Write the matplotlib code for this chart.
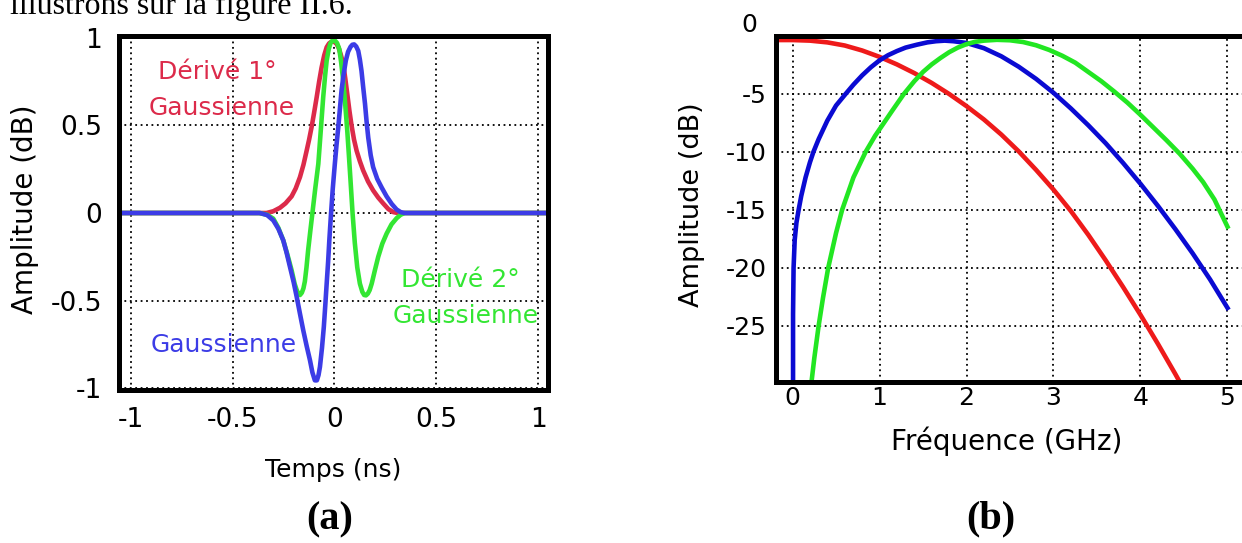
import numpy as np
import matplotlib.pyplot as plt
from matplotlib.transforms import ScaledTranslation

plt.rcParams['axes.unicode_minus'] = False
plt.rcParams['font.family'] = ['DejaVu Sans']

# ---- (a) time domain pulses ----
t_red = [-1.07, -0.45, -0.333, -0.30, -0.267, -0.24, -0.21, -0.19, -0.169, -0.152,
         -0.136, -0.124, -0.112, -0.10, -0.087, -0.075, -0.063, -0.05, -0.038, -0.026,
         -0.014, 0.0, 0.01, 0.02, 0.031, 0.043, 0.053, 0.063, 0.074, 0.084,
         0.096, 0.109, 0.125, 0.141, 0.165, 0.19, 0.215, 0.24, 0.265, 0.289,
         0.31, 0.40, 1.07]
a_red = [0, 0, 0, 0.01, 0.03, 0.055, 0.095, 0.14, 0.205, 0.275,
         0.357, 0.42, 0.49, 0.57, 0.661, 0.75, 0.83, 0.90, 0.946, 0.968,
         0.978, 0.976, 0.966, 0.945, 0.905, 0.852, 0.77, 0.68, 0.58, 0.50,
         0.42, 0.355, 0.295, 0.243, 0.18, 0.129, 0.088, 0.054, 0.022, 0.005,
         0, 0, 0]

t_blue = [-1.07, -0.366, -0.33, -0.30, -0.275, -0.251, -0.235, -0.218, -0.20, -0.185,
          -0.169, -0.153, -0.136, -0.12, -0.108, -0.096, -0.086, -0.078, -0.071, -0.061,
          -0.052, -0.045, -0.038, -0.031, -0.025, -0.017, -0.008, 0.002, 0.01, 0.019,
          0.027, 0.035, 0.045, 0.056, 0.067, 0.079, 0.088, 0.097, 0.107, 0.117,
          0.125, 0.133, 0.141, 0.15, 0.158, 0.166, 0.178, 0.19, 0.21, 0.232,
          0.256, 0.281, 0.305, 0.325, 0.345, 1.07]
a_blue = [0, 0, -0.012, -0.042, -0.09, -0.156, -0.225, -0.308, -0.395, -0.479,
          -0.575, -0.669, -0.76, -0.84, -0.91, -0.955, -0.955, -0.925, -0.878, -0.77,
          -0.65, -0.53, -0.403, -0.28, -0.156, -0.01, 0.14, 0.28, 0.385, 0.49,
          0.595, 0.70, 0.79, 0.87, 0.92, 0.948, 0.960, 0.962, 0.95, 0.925,
          0.875, 0.81, 0.72, 0.624, 0.52, 0.43, 0.33, 0.262, 0.195, 0.145,
          0.095, 0.052, 0.02, 0.005, 0, 0]

t_green = [-1.07, -0.37, -0.33, -0.30, -0.275, -0.251, -0.23, -0.21, -0.195, -0.185,
           -0.177, -0.169, -0.16, -0.152, -0.145, -0.137, -0.129, -0.118, -0.108, -0.094,
           -0.079, -0.067, -0.055, -0.046, -0.038, -0.028, -0.019, -0.008, 0.002, 0.013,
           0.024, 0.033, 0.043, 0.053, 0.063, 0.071, 0.079, 0.089, 0.10, 0.112,
           0.125, 0.137, 0.146, 0.155, 0.164, 0.173, 0.183, 0.20, 0.215, 0.235,
           0.256, 0.28, 0.305, 0.325, 0.345, 1.07]
a_green = [0, 0, -0.01, -0.032, -0.085, -0.156, -0.24, -0.327, -0.405, -0.44,
           -0.46, -0.468, -0.455, -0.43, -0.39, -0.31, -0.213, -0.10, 0.0, 0.14,
           0.28, 0.47, 0.661, 0.78, 0.87, 0.935, 0.97, 0.985, 0.985, 0.97,
           0.935, 0.86, 0.757, 0.62, 0.47, 0.33, 0.186, 0.0, -0.17, -0.31,
           -0.403, -0.45, -0.468, -0.47, -0.46, -0.44, -0.403, -0.32, -0.25, -0.175,
           -0.118, -0.065, -0.03, -0.01, 0, 0]

# ---- (b) spectra in dB ----
f_red = [-0.2, 0.0, 0.2, 0.4, 0.6, 0.8, 1.0, 1.2, 1.4, 1.6, 1.8, 2.0, 2.2, 2.4,
         2.6, 2.8, 3.0, 3.2, 3.4, 3.6, 3.8, 4.0, 4.2, 4.4, 4.6]
db_red = [-0.35, -0.35, -0.4, -0.55, -0.82, -1.25, -1.8, -2.45, -3.2, -4.05, -5.0,
          -6.05, -7.2, -8.5, -9.95, -11.55, -13.25, -15.1, -17.15, -19.35, -21.65,
          -24.05, -26.55, -29.15, -31.85]

f_blue = [0.006, 0.006, 0.012, 0.025, 0.045, 0.07, 0.1, 0.15, 0.2, 0.24, 0.3, 0.4,
          0.5, 0.61, 0.7, 0.8, 0.9, 1.0, 1.1, 1.2, 1.3, 1.43, 1.55, 1.65, 1.75,
          1.85, 2.0, 2.2, 2.4, 2.6, 2.8, 3.0, 3.2, 3.4, 3.6, 3.8, 4.0, 4.2, 4.4,
          4.6, 4.8, 5.0]
db_blue = [-31, -24, -20, -17.6, -16.1, -15.0, -13.8, -12.2, -10.9, -10.0, -8.9, -7.3,
           -6.0, -5.0, -4.2, -3.4, -2.7, -2.1, -1.65, -1.3, -1.0, -0.75, -0.55, -0.45,
           -0.4, -0.45, -0.6, -1.05, -1.75, -2.65, -3.7, -4.9, -6.25, -7.7, -9.25,
           -10.95, -12.75, -14.65, -16.65, -18.75, -21.0, -23.45]

f_green = [0.2, 0.25, 0.3, 0.35, 0.41, 0.5, 0.57, 0.7, 0.84, 0.95, 1.05, 1.15, 1.28,
           1.4, 1.5, 1.6, 1.7, 1.8, 1.9, 2.0, 2.1, 2.2, 2.35, 2.5, 2.65, 2.8, 2.95,
           3.1, 3.25, 3.4, 3.55, 3.7, 3.85, 4.0, 4.15, 4.3, 4.45, 4.6, 4.72, 4.85, 5.0]
db_green = [-31, -27.8, -25, -22.6, -20, -17.0, -15.0, -12.2, -10.0, -8.6, -7.5, -6.4,
            -5.0, -3.9, -3.1, -2.45, -1.9, -1.4, -1.0, -0.7, -0.5, -0.4, -0.33, -0.37,
            -0.52, -0.8, -1.2, -1.7, -2.3, -3.1, -3.9, -4.8, -5.75, -6.8, -7.9, -9.0,
            -10.15, -11.45, -12.6, -14.1, -16.45]

t_ticks = [-1, -0.5, 0, 0.5, 1]
t_labels = ['-1', '-0.5', '0', '0.5', '1']
a_ticks = [-1, -0.5, 0, 0.5, 1]
a_labels = ['-1', '-0.5', '0', '0.5', '1']
f_ticks = [0, 1, 2, 3, 4, 5]
db_ticks = [0, -5, -10, -15, -20, -25]

fig = plt.figure(figsize=(12.42, 5.43), dpi=100)
W, H = 1242, 543


def px_axes(x0, x1, y0, y1):
    return fig.add_axes([x0 / W, 1 - y1 / H, (x1 - x0) / W, (y1 - y0) / H])


def style(ax, fs):
    for s in ax.spines.values():
        s.set_linewidth(3.6)
        s.set_color('black')
    ax.grid(True, color='black', linestyle=(0, (1, 2)), linewidth=1.3)
    ax.set_axisbelow(True)
    ax.tick_params(length=0, labelsize=fs)


# ===== panel (a) =====
ax1 = px_axes(119, 548, 36, 390)
ax1.plot(t_red, a_red, color='#dc2a4a', lw=3.3)
ax1.plot(t_green, a_green, color='#33e633', lw=3.3)
ax1.plot(t_blue, a_blue, color='#3c3ce6', lw=3.3)
ax1.set_xlim(-1.057, 1.048)
ax1.set_ylim(-1.01, 1.01)
ax1.set_xticks(t_ticks, t_labels)
ax1.set_yticks(a_ticks, a_labels)
style(ax1, 19)
ax1.tick_params(axis='y', pad=12)
ax1.tick_params(axis='x', pad=12)
ax1.set_xlabel('Temps (ns)', fontsize=18, va='center')
ax1.xaxis.set_label_coords(0.499, -0.226)
ax1.set_ylabel('Amplitude (dB)', fontsize=20, va='center')
ax1.yaxis.set_label_coords(-0.219, 0.511)

ax1.text(-0.577, 0.802, 'Dérivé 1°', color='#dc2a4a', fontsize=18, ha='center', va='center')
ax1.text(-0.552, 0.597, 'Gaussienne', color='#dc2a4a', fontsize=18, ha='center', va='center')
ax1.text(-0.542, -0.754, 'Gaussienne', color='#3c3ce6', fontsize=18, ha='center', va='center')
ax1.text(0.616, -0.384, 'Dérivé 2°', color='#33e633', fontsize=18, ha='center', va='center')
ax1.text(0.645, -0.589, 'Gaussienne', color='#33e633', fontsize=18, ha='center', va='center')

# ===== panel (b) =====
ax2 = px_axes(776, 1244, 36, 381.5)
ax2.plot(f_red, db_red, color='#ee1a1a', lw=3.3)
ax2.plot(f_blue, db_blue, color='#0a0ad2', lw=3.3)
ax2.plot(f_green, db_green, color='#22e622', lw=3.3)
ax2.set_xlim(-0.19, 5.19)
ax2.set_ylim(-29.8, 0)
ax2.set_xticks(f_ticks)
ax2.set_yticks(db_ticks)
style(ax2, 18)
ax2.tick_params(axis='y', pad=7)
ax2.tick_params(axis='x', pad=3)
ax2.set_xlabel('Fréquence (GHz)', fontsize=20, va='center')
ax2.xaxis.set_label_coords(0.493, -0.172)
ax2.set_ylabel('Amplitude (dB)', fontsize=19.5, va='center')
ax2.yaxis.set_label_coords(-0.179, 0.511)

fig.canvas.draw()
for lab in ax2.get_yticklabels():
    if lab.get_text() == '0':
        lab.set_transform(lab.get_transform() + ScaledTranslation(-0.09, 0.14, fig.dpi_scale_trans))

# captions and the clipped document line above
fig.text(330 / W, 1 - 520 / H, '(a)', family='Liberation Serif', weight='bold',
         fontsize=29, ha='center', va='center')
fig.text(991 / W, 1 - 519 / H, '(b)', family='Liberation Serif', weight='bold',
         fontsize=29, ha='center', va='center')
fig.text(10 / W, 1 - 14 / H, 'illustrons sur la figure II.6.', family='Liberation Serif',
         fontsize=23, ha='left', va='baseline')

fig.savefig('out.png', dpi=100)
